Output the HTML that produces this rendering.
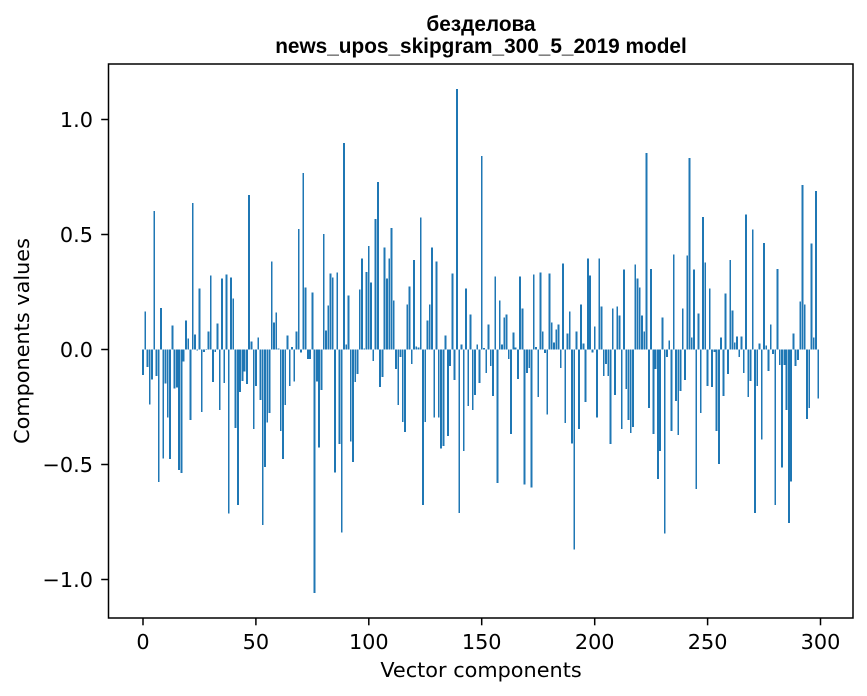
<!DOCTYPE html>
<html>
<head>
<meta charset="utf-8">
<style>
html,body{margin:0;padding:0;background:#fff;}
svg{display:block;}
.tk{font-family:"DejaVu Sans","Liberation Sans",sans-serif;font-size:20.8px;fill:#000;}
.tt{font-family:"Liberation Sans","DejaVu Sans",sans-serif;font-size:20.8px;font-weight:bold;fill:#000;}
</style>
</head>
<body>
<svg width="867" height="696" viewBox="0 0 867 696" xmlns="http://www.w3.org/2000/svg">
<rect x="0" y="0" width="867" height="696" fill="#fff"/>
<g transform="translate(143,349.5) scale(2.2583,-230)" fill="#1f77b4" shape-rendering="crispEdges">
<path d="M-.4 0h.8V-.111h-.8zM.6 0h.8V.165h-.8zM1.6 0h.8V-.077h-.8zM2.6 0h.8V-.24h-.8zM3.6 0h.8V-.13h-.8zM4.6 0h.8V.603h-.8zM5.6 0h.8V-.116h-.8zM6.6 0h.8V-.576h-.8zM7.6 0h.8V.18h-.8zM8.6 0h.8V-.473h-.8zM9.6 0h.8V-.147h-.8zM10.6 0h.8V-.295h-.8zM11.6 0h.8V-.477h-.8zM12.6 0h.8V.104h-.8zM13.6 0h.8V-.169h-.8zM14.6 0h.8V-.165h-.8zM15.6 0h.8V-.523h-.8zM16.6 0h.8V-.538h-.8zM17.6 0h.8V-.052h-.8zM18.6 0h.8V.127h-.8zM19.6 0h.8V.048h-.8zM20.6 0h.8V-.307h-.8zM21.6 0h.8V.638h-.8zM22.6 0h.8V.065h-.8zM23.6 0h.8V-.005h-.8zM24.6 0h.8V.265h-.8zM25.6 0h.8V-.272h-.8zM26.6 0h.8V-.01h-.8zM27.6 0h.8V.002h-.8zM28.6 0h.8V.078h-.8zM29.6 0h.8V.321h-.8zM30.6 0h.8V-.142h-.8zM31.6 0h.8V-.01h-.8zM32.6 0h.8V.113h-.8zM33.6 0h.8V-.263h-.8zM34.6 0h.8V.308h-.8zM35.6 0h.8V-.146h-.8zM36.6 0h.8V.325h-.8zM37.6 0h.8V-.714h-.8zM38.6 0h.8V.312h-.8zM39.6 0h.8V.221h-.8zM40.6 0h.8V-.341h-.8zM41.6 0h.8V-.675h-.8zM42.6 0h.8V-.185h-.8zM43.6 0h.8V-.137h-.8zM44.6 0h.8V-.095h-.8zM45.6 0h.8V-.15h-.8zM46.6 0h.8V.672h-.8zM47.6 0h.8V.035h-.8zM48.6 0h.8V-.346h-.8zM49.6 0h.8V-.159h-.8zM50.6 0h.8V.052h-.8zM51.6 0h.8V-.22h-.8zM52.6 0h.8V-.764h-.8zM53.6 0h.8V-.51h-.8zM54.6 0h.8V-.318h-.8zM55.6 0h.8V-.276h-.8zM56.6 0h.8V.382h-.8zM57.6 0h.8V.117h-.8zM58.6 0h.8V.16h-.8zM59.6 0h.8V.005h-.8zM60.6 0h.8V-.354h-.8zM61.6 0h.8V-.476h-.8zM62.6 0h.8V-.241h-.8zM63.6 0h.8V.061h-.8zM64.6 0h.8V-.159h-.8zM65.6 0h.8V.01h-.8zM66.6 0h.8V-.139h-.8zM67.6 0h.8V.078h-.8zM68.6 0h.8V.525h-.8zM69.6 0h.8V-.012h-.8zM70.6 0h.8V.768h-.8zM71.6 0h.8V.269h-.8zM72.6 0h.8V-.042h-.8zM73.6 0h.8V-.042h-.8zM74.6 0h.8V.247h-.8zM75.6 0h.8V-1.059h-.8zM76.6 0h.8V-.139h-.8zM77.6 0h.8V-.425h-.8zM78.6 0h.8V-.176h-.8zM79.6 0h.8V.503h-.8zM80.6 0h.8V.082h-.8zM81.6 0h.8V.191h-.8zM82.6 0h.8V.33h-.8zM83.6 0h.8V.312h-.8zM84.6 0h.8V-.535h-.8zM85.6 0h.8V.334h-.8zM86.6 0h.8V-.411h-.8zM87.6 0h.8V-.796h-.8zM88.6 0h.8V.898h-.8zM89.6 0h.8V.022h-.8zM90.6 0h.8V.234h-.8zM91.6 0h.8V-.399h-.8zM92.6 0h.8V-.49h-.8zM93.6 0h.8V-.142h-.8zM94.6 0h.8V-.107h-.8zM95.6 0h.8V.26h-.8zM96.6 0h.8V.395h-.8zM97.6 0h.8V.004h-.8zM98.6 0h.8V.338h-.8zM99.6 0h.8V.451h-.8zM100.6 0h.8V.291h-.8zM101.6 0h.8V-.051h-.8zM102.6 0h.8V.568h-.8zM103.6 0h.8V.729h-.8zM104.6 0h.8V-.163h-.8zM105.6 0h.8V-.12h-.8zM106.6 0h.8V.443h-.8zM107.6 0h.8V.308h-.8zM108.6 0h.8V.395h-.8zM109.6 0h.8V.529h-.8zM110.6 0h.8V.213h-.8zM111.6 0h.8V-.085h-.8zM112.6 0h.8V-.241h-.8zM113.6 0h.8V-.033h-.8zM114.6 0h.8V-.315h-.8zM115.6 0h.8V-.359h-.8zM116.6 0h.8V.195h-.8zM117.6 0h.8V.273h-.8zM118.6 0h.8V-.064h-.8zM119.6 0h.8V.39h-.8zM120.6 0h.8V.013h-.8zM121.6 0h.8V.009h-.8zM122.6 0h.8V.573h-.8zM123.6 0h.8V-.675h-.8zM124.6 0h.8V-.315h-.8zM125.6 0h.8V.126h-.8zM126.6 0h.8V.195h-.8zM127.6 0h.8V.443h-.8zM128.6 0h.8V-.295h-.8zM129.6 0h.8V.382h-.8zM130.6 0h.8V-.295h-.8zM131.6 0h.8V-.43h-.8zM132.6 0h.8V-.42h-.8zM133.6 0h.8V.061h-.8zM134.6 0h.8V-.376h-.8zM135.6 0h.8V-.072h-.8zM136.6 0h.8V.33h-.8zM137.6 0h.8V-.133h-.8zM138.6 0h.8V1.132h-.8zM139.6 0h.8V-.71h-.8zM140.6 0h.8V.022h-.8zM141.6 0h.8V-.442h-.8zM142.6 0h.8V.265h-.8zM143.6 0h.8V-.246h-.8zM144.6 0h.8V.152h-.8zM145.6 0h.8V-.263h-.8zM146.6 0h.8V-.198h-.8zM147.6 0h.8V.022h-.8zM148.6 0h.8V-.146h-.8zM149.6 0h.8V.842h-.8zM150.6 0h.8V.006h-.8zM151.6 0h.8V-.103h-.8zM152.6 0h.8V.108h-.8zM153.6 0h.8V-.072h-.8zM154.6 0h.8V-.202h-.8zM155.6 0h.8V.317h-.8zM156.6 0h.8V-.58h-.8zM157.6 0h.8V.213h-.8zM158.6 0h.8V.022h-.8zM159.6 0h.8V.139h-.8zM160.6 0h.8V.152h-.8zM161.6 0h.8V-.042h-.8zM162.6 0h.8V-.367h-.8zM163.6 0h.8V.074h-.8zM164.6 0h.8V.009h-.8zM165.6 0h.8V-.129h-.8zM166.6 0h.8V.317h-.8zM167.6 0h.8V.178h-.8zM168.6 0h.8V-.586h-.8zM169.6 0h.8V-.103h-.8zM170.6 0h.8V-.081h-.8zM171.6 0h.8V-.6h-.8zM172.6 0h.8V.325h-.8zM173.6 0h.8V.01h-.8zM174.6 0h.8V-.207h-.8zM175.6 0h.8V.334h-.8zM176.6 0h.8V.078h-.8zM177.6 0h.8V-.016h-.8zM178.6 0h.8V-.282h-.8zM179.6 0h.8V.33h-.8zM180.6 0h.8V.117h-.8zM181.6 0h.8V.03h-.8zM182.6 0h.8V.087h-.8zM183.6 0h.8V.108h-.8zM184.6 0h.8V-.081h-.8zM185.6 0h.8V.373h-.8zM186.6 0h.8V-.32h-.8zM187.6 0h.8V.069h-.8zM188.6 0h.8V.165h-.8zM189.6 0h.8V-.408h-.8zM190.6 0h.8V-.87h-.8zM191.6 0h.8V.078h-.8zM192.6 0h.8V-.346h-.8zM193.6 0h.8V.195h-.8zM194.6 0h.8V.026h-.8zM195.6 0h.8V-.228h-.8zM196.6 0h.8V.395h-.8zM197.6 0h.8V.321h-.8zM198.6 0h.8V-.012h-.8zM199.6 0h.8V.1h-.8zM200.6 0h.8V-.295h-.8zM201.6 0h.8V.395h-.8zM202.6 0h.8V.187h-.8zM203.6 0h.8V-.116h-.8zM204.6 0h.8V-.064h-.8zM205.6 0h.8V-.116h-.8zM206.6 0h.8V-.411h-.8zM207.6 0h.8V.178h-.8zM208.6 0h.8V-.198h-.8zM209.6 0h.8V.187h-.8zM210.6 0h.8V.148h-.8zM211.6 0h.8V-.346h-.8zM212.6 0h.8V.347h-.8zM213.6 0h.8V-.172h-.8zM214.6 0h.8V-.307h-.8zM215.6 0h.8V-.362h-.8zM216.6 0h.8V-.336h-.8zM217.6 0h.8V.369h-.8zM218.6 0h.8V.308h-.8zM219.6 0h.8V.269h-.8zM220.6 0h.8V.148h-.8zM221.6 0h.8V.078h-.8zM222.6 0h.8V.855h-.8zM223.6 0h.8V-.255h-.8zM224.6 0h.8V.351h-.8zM225.6 0h.8V-.367h-.8zM226.6 0h.8V-.085h-.8zM227.6 0h.8V-.564h-.8zM228.6 0h.8V-.442h-.8zM229.6 0h.8V.139h-.8zM230.6 0h.8V-.8h-.8zM231.6 0h.8V-.033h-.8zM232.6 0h.8V.039h-.8zM233.6 0h.8V-.354h-.8zM234.6 0h.8V.412h-.8zM235.6 0h.8V-.224h-.8zM236.6 0h.8V-.372h-.8zM237.6 0h.8V-.181h-.8zM238.6 0h.8V.178h-.8zM239.6 0h.8V-.133h-.8zM240.6 0h.8V.408h-.8zM241.6 0h.8V.833h-.8zM242.6 0h.8V.052h-.8zM243.6 0h.8V.347h-.8zM244.6 0h.8V-.607h-.8zM245.6 0h.8V.156h-.8zM246.6 0h.8V-.276h-.8zM247.6 0h.8V.577h-.8zM248.6 0h.8V.378h-.8zM249.6 0h.8V-.159h-.8zM250.6 0h.8V.265h-.8zM251.6 0h.8V-.163h-.8zM252.6 0h.8V-.01h-.8zM253.6 0h.8V-.354h-.8zM254.6 0h.8V-.497h-.8zM255.6 0h.8V.052h-.8zM256.6 0h.8V-.202h-.8zM257.6 0h.8V.243h-.8zM258.6 0h.8V-.107h-.8zM259.6 0h.8V.39h-.8zM260.6 0h.8V.169h-.8zM261.6 0h.8V.03h-.8zM262.6 0h.8V.056h-.8zM263.6 0h.8V-.033h-.8zM264.6 0h.8V.056h-.8zM265.6 0h.8V-.103h-.8zM266.6 0h.8V.586h-.8zM267.6 0h.8V-.207h-.8zM268.6 0h.8V-.137h-.8zM269.6 0h.8V.521h-.8zM270.6 0h.8V-.71h-.8zM271.6 0h.8V-.159h-.8zM272.6 0h.8V.026h-.8zM273.6 0h.8V-.391h-.8zM274.6 0h.8V.464h-.8zM275.6 0h.8V.017h-.8zM276.6 0h.8V-.094h-.8zM277.6 0h.8V.108h-.8zM278.6 0h.8V-.02h-.8zM279.6 0h.8V-.675h-.8zM280.6 0h.8V.351h-.8zM281.6 0h.8V-.068h-.8zM282.6 0h.8V-.514h-.8zM283.6 0h.8V-.068h-.8zM284.6 0h.8V-.263h-.8zM285.6 0h.8V-.755h-.8zM286.6 0h.8V-.573h-.8zM287.6 0h.8V.069h-.8zM288.6 0h.8V-.072h-.8zM289.6 0h.8V-.046h-.8zM290.6 0h.8V.208h-.8zM291.6 0h.8V.716h-.8zM292.6 0h.8V.195h-.8zM293.6 0h.8V-.302h-.8zM294.6 0h.8V-.255h-.8zM295.6 0h.8V.46h-.8zM296.6 0h.8V.052h-.8zM297.6 0h.8V.69h-.8zM298.6 0h.8V-.212h-.8z"/>
</g>
<!-- spines -->
<rect x="108.5" y="64" width="744.5" height="554" fill="none" stroke="#000" stroke-width="1.5"/>
<g stroke="#000" stroke-width="1.5">
<line x1="143" y1="618" x2="143" y2="625.3"/>
<line x1="255.9" y1="618" x2="255.9" y2="625.3"/>
<line x1="368.8" y1="618" x2="368.8" y2="625.3"/>
<line x1="481.7" y1="618" x2="481.7" y2="625.3"/>
<line x1="594.7" y1="618" x2="594.7" y2="625.3"/>
<line x1="707.6" y1="618" x2="707.6" y2="625.3"/>
<line x1="820.5" y1="618" x2="820.5" y2="625.3"/>
<line x1="101.2" y1="119.5" x2="108.5" y2="119.5"/>
<line x1="101.2" y1="234.5" x2="108.5" y2="234.5"/>
<line x1="101.2" y1="349.5" x2="108.5" y2="349.5"/>
<line x1="101.2" y1="464.5" x2="108.5" y2="464.5"/>
<line x1="101.2" y1="579.5" x2="108.5" y2="579.5"/>
</g>
<g class="tk" text-anchor="middle">
<text x="143" y="649">0</text>
<text x="255.9" y="649">50</text>
<text x="368.8" y="649">100</text>
<text x="481.7" y="649">150</text>
<text x="594.7" y="649">200</text>
<text x="707.6" y="649">250</text>
<text x="820.5" y="649">300</text>
</g>
<g class="tk" text-anchor="end">
<text x="93" y="127">1.0</text>
<text x="93" y="242">0.5</text>
<text x="93" y="357">0.0</text>
<text x="93" y="472">−0.5</text>
<text x="93" y="587">−1.0</text>
</g>
<text class="tk" x="481" y="677" text-anchor="middle">Vector components</text>
<text class="tk" transform="translate(29,341) rotate(-90)" text-anchor="middle">Components values</text>
<text class="tt" x="481" y="31" text-anchor="middle">безделова</text>
<text class="tt" x="481" y="53" text-anchor="middle">news_upos_skipgram_300_5_2019 model</text>
</svg>
</body>
</html>
